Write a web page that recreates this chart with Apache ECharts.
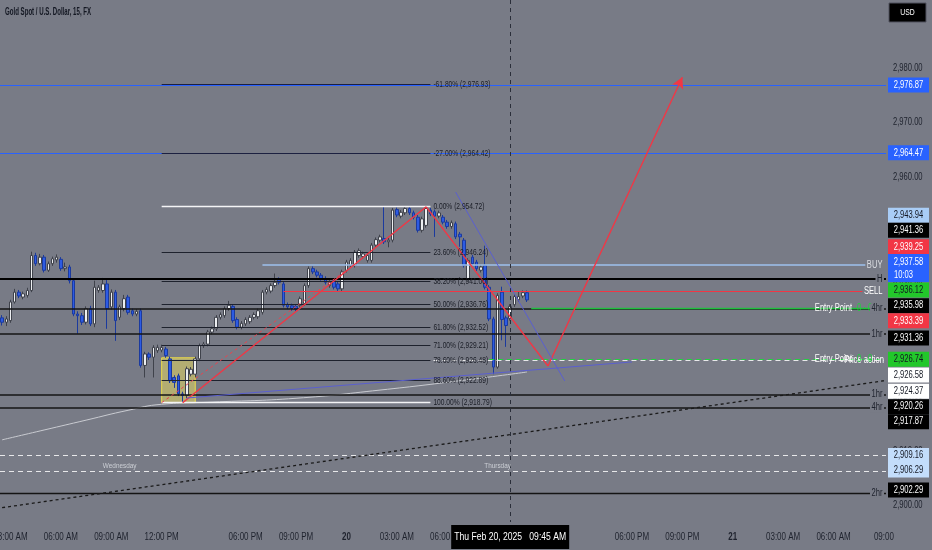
<!DOCTYPE html>
<html>
<head>
<meta charset="utf-8">
<script src="https://cdn.jsdelivr.net/npm/echarts@6/dist/echarts.min.js"></script>
<style>
html,body{margin:0;padding:0;background:#787b86;overflow:hidden}
#chart{width:932px;height:550px}
</style>
</head>
<body>
<div id="chart"></div>
<script>
const FONT = "'Liberation Sans','Roboto',sans-serif";

// ---------- categories (15-minute bars, daily break 17:00-18:00 skipped) ----------
const BAR_COUNT = 211;
const categories = [];
for (let t = Date.UTC(2025, 1, 19, 2, 30); categories.length < BAR_COUNT; t += 15 * 60000) {
  const d = new Date(t);
  if (d.getUTCHours() === 17) continue;
  categories.push(d.toISOString().slice(0, 16).replace('T', ' '));
}

// ---------- tick labels ----------
const xTickIndex = [2, 14, 26, 38, 58, 70, 82, 94, 106, 150, 162, 174, 186, 198, 210];
const xTickText = ['03:00 AM', '06:00 AM', '09:00 AM', '12:00 PM', '06:00 PM', '09:00 PM', '20', '03:00 AM', '06:00 AM', '06:00 PM', '09:00 PM', '21', '03:00 AM', '06:00 AM', '09:00'];
const yTickValues = [2900, 2910, 2920, 2930, 2940, 2950, 2960, 2970, 2980];

// ---------- candles ----------
const candleOpen = [
2934.3,2933.5,2933.8,2937.2,2939.0,2938.1,2938.4,2939.3,2945.7,2944.2,
2945.4,2943.0,2944.2,2944.9,2945.0,2943.3,2943.6,2941.1,2935.0,2934.7,
2933.5,2936.0,2933.2,2939.3,2939.3,2940.5,2936.3,2939.0,2934.4,2936.0,
2938.1,2935.6,2935.0,2935.6,2925.6,2927.7,2927.1,2928.3,2928.4,2928.6,
2926.8,2923.4,2923.7,2920.4,2920.1,2924.0,2924.0,2926.8,2929.2,2929.5,
2931.7,2932.3,2934.4,2934.7,2936.0,2936.4,2934.0,2932.6,2933.2,2933.6,
2934.4,2934.5,2935.3,2939.0,2939.2,2940.2,2941.3,2940.5,2936.7,2936.5,
2936.4,2936.6,2936.9,2940.2,2943.3,2942.7,2942.1,2941.5,2940.2,2941.1,
2940.5,2939.6,2943.0,2943.9,2943.9,2945.7,2945.5,2944.8,2944.8,2947.6,
2948.5,2948.8,2948.2,2948.5,2954.1,2952.9,2953.5,2954.3,2953.5,2952.7,
2950.3,2951.2,2954.0,2953.7,2952.9,2952.7,2951.8,2951.0,2951.5,2949.6,
2948.5,2941.5,2945.4,2944.5,2943.0,2943.9,2939.9,2934.1,2925.3,2939.0,
2934.3,2934.2,2936.7,2937.6,2938.3,2938.9];
const candleClose = [
2933.5,2934.1,2937.2,2939.0,2938.3,2938.7,2939.3,2945.7,2944.2,2945.4,
2943.0,2944.2,2945.1,2945.4,2943.3,2943.6,2941.1,2935.0,2934.7,2933.5,
2936.0,2933.2,2939.9,2939.9,2940.5,2936.0,2939.0,2933.8,2936.3,2937.8,
2935.3,2935.0,2935.5,2925.6,2927.7,2927.1,2928.9,2928.9,2928.9,2927.4,
2922.8,2922.5,2920.4,2920.1,2925.0,2924.9,2926.8,2929.2,2929.5,2931.7,
2932.3,2934.4,2934.9,2936.0,2936.6,2933.8,2932.6,2933.3,2934.0,2934.4,
2934.9,2935.6,2939.0,2939.5,2940.2,2940.8,2940.8,2936.6,2936.3,2936.0,
2935.9,2937.8,2940.2,2943.3,2942.7,2942.1,2941.5,2940.8,2940.8,2939.9,
2939.6,2942.7,2944.5,2944.8,2946.3,2946.6,2946.0,2945.7,2947.6,2948.6,
2949.1,2948.2,2948.5,2954.0,2953.1,2953.6,2954.3,2953.5,2952.7,2950.3,
2952.4,2954.3,2953.3,2952.9,2953.5,2951.8,2951.0,2951.7,2949.1,2949.1,
2943.9,2944.8,2944.2,2943.3,2943.6,2939.9,2934.1,2925.3,2938.4,2934.0,
2932.9,2936.4,2938.2,2938.2,2938.9,2937.58];
const candleLow = [
2932.9,2932.8,2933.4,2936.9,2937.9,2937.7,2938.0,2939.0,2943.8,2943.9,
2942.6,2942.7,2943.8,2944.4,2942.9,2942.8,2940.6,2934.6,2931.4,2933.0,
2933.1,2932.8,2932.6,2938.9,2938.9,2932.3,2935.8,2930.1,2933.9,2935.5,
2934.9,2934.6,2934.6,2925.2,2923.4,2926.6,2923.4,2927.9,2928.0,2927.0,
2922.4,2921.5,2920.0,2918.79,2919.6,2923.6,2923.4,2926.4,2928.8,2929.1,
2931.3,2931.9,2934.0,2934.3,2935.6,2933.4,2932.2,2932.2,2932.8,2933.2,
2934.0,2934.1,2934.9,2938.6,2938.8,2939.8,2940.4,2936.2,2935.9,2935.6,
2935.5,2936.2,2936.5,2939.8,2942.3,2941.7,2941.1,2940.4,2939.8,2939.5,
2939.2,2939.2,2942.6,2943.5,2943.5,2945.3,2945.1,2944.4,2944.4,2947.2,
2948.1,2947.8,2947.2,2948.1,2952.7,2952.5,2953.1,2953.1,2952.3,2949.9,
2949.9,2950.8,2952.9,2949.1,2952.5,2951.4,2950.6,2950.6,2948.7,2947.3,
2943.5,2941.1,2943.8,2942.9,2942.6,2939.5,2933.7,2924.0,2925.0,2930.2,
2929.0,2933.8,2936.3,2937.2,2937.9,2937.2];
const candleHigh = [
2934.8,2934.6,2937.6,2939.6,2939.4,2939.1,2939.8,2946.4,2946.2,2946.0,
2945.8,2944.6,2945.5,2945.9,2945.4,2944.4,2944.0,2941.5,2935.5,2935.2,
2936.4,2936.5,2941.1,2940.3,2941.6,2941.2,2939.5,2939.4,2936.7,2938.5,
2938.5,2936.0,2935.9,2936.0,2928.1,2928.0,2929.3,2929.4,2929.4,2929.0,
2927.2,2923.8,2924.1,2920.8,2925.4,2925.3,2927.2,2929.6,2929.9,2932.1,
2932.7,2934.8,2935.3,2936.4,2937.4,2936.8,2934.4,2933.7,2934.4,2934.8,
2935.3,2936.0,2939.4,2939.9,2940.6,2942.4,2941.7,2940.9,2937.1,2936.9,
2936.8,2938.2,2940.6,2943.7,2943.7,2943.1,2942.5,2941.9,2941.2,2941.5,
2940.9,2943.1,2944.9,2945.2,2946.7,2947.0,2946.4,2946.1,2948.0,2949.0,
2949.5,2954.6,2948.9,2954.4,2954.5,2954.0,2954.7,2954.6,2953.9,2953.1,
2952.8,2954.72,2954.4,2954.1,2953.9,2953.1,2952.2,2952.1,2951.9,2950.0,
2948.9,2945.2,2945.8,2944.9,2944.0,2947.5,2940.3,2934.5,2938.8,2940.0,
2934.7,2936.8,2938.6,2939.2,2939.3,2939.3];

// ---------- moving average (read at a few bars) ----------
const maIndex = [0, 10, 20, 30, 38, 50, 70, 90, 110, 125];
const maValue = [2912.0, 2913.8, 2915.6, 2917.4, 2918.5, 2918.9, 2919.6, 2921.1, 2922.9, 2924.4];

// ---------- fibonacci retracement ----------
const fibPct = [-61.8, -27, 0, 23.6, 38.2, 50, 61.8, 71, 78.6, 88.6, 100];
const fibPrice = [2976.93, 2964.42, 2954.72, 2946.24, 2941.00, 2936.76, 2932.52, 2929.21, 2926.48, 2922.89, 2918.79];
const fibFromIndex = 38, fibToIndex = 102;

// ---------- full-width horizontal levels ----------
const levelPrice = [2976.87, 2964.47, 2941.36, 2935.98, 2931.36, 2920.26, 2917.87, 2902.29, 2909.16, 2906.29];
const levelName = ['', '', 'H', '4hr', '1hr', '1hr', '4hr', '2hr', '', ''];

// ---------- partial horizontal levels (start bar -> right edge) ----------
const partPrice = [2943.94, 2939.25, 2936.12, 2926.58, 2926.74];
const partStart = [62, 67, 126, 47, 116];
const partName = ['BUY', 'SELL', 'Entry Point', 'Price action', 'Entry Point'];

// ---------- drawings ----------
const zigzagIndex = [43, 101, 130, 162];
const zigzagPrice = [2918.79, 2954.6, 2925.5, 2978.3];
const redDashIndex = [38, 82];
const redDashPrice = [2918.8, 2943.0];
const trend1Index = [44, 150];
const trend1Price = [2919.65, 2926.24];
const trend2Index = [108, 134];
const trend2Price = [2957.3, 2922.76];
const dottedIndex = [0, 210];
const dottedPrice = [2899.6, 2922.8];
const boxIndex = [38, 46];
const boxPrice = [2927.0, 2918.8];
const crossIndex = 121;
const crossText = 'Thu Feb 20, 2025   09:45 AM';
const sessionIndex = [28, 118];
const sessionPrice = [2907.2, 2907.2];
const sessionText = ['Wednesday', 'Thursday'];

// ---------- right axis price tags ----------
const tagPrice = [2976.87, 2964.47, 2943.94, 2941.36, 2939.25, 2937.58, 2936.12, 2935.98, 2933.39, 2931.36, 2926.74, 2926.58, 2924.37, 2920.26, 2917.87, 2909.16, 2906.29, 2902.29];
const tagSub = ['', '', '', '', '', '10:03', '', '', '', '', '', '', '', '', '', '', '', ''];

// styles / layout (kept separate from data)
const tagStyle = [
  ['#2962ff', '#ffffff', 0], ['#2962ff', '#ffffff', 0], ['#a9cdf7', '#131722', -50], ['#000000', '#ffffff', -49],
  ['#f23645', '#ffffff', -44], ['#2962ff', '#ffffff', -32], ['#22c72a', '#131722', -18], ['#000000', '#ffffff', -3],
  ['#f23645', '#ffffff', -2], ['#000000', '#ffffff', 4], ['#22c72a', '#131722', 0], ['#ffffff', '#131722', 15],
  ['#ffffff', '#131722', 19], ['#000000', '#ffffff', 12], ['#000000', '#ffffff', 14], ['#c3ddfb', '#131722', 0],
  ['#c3ddfb', '#131722', -1], ['#000000', '#ffffff', -3]];
const levelStyle = [
  ['#2962ff', 1, 'solid'], ['#2962ff', 1, 'solid'], ['#000000', 2.2, 'solid'], ['#141414', 1.6, 'solid'], ['#141414', 1.6, 'solid'],
  ['#141414', 1.6, 'solid'], ['#141414', 1.6, 'solid'], ['#141414', 1.4, 'solid'], ['#e8e8ea', 1, [5, 4]], ['#e8e8ea', 1, [5, 4]]];
const partStyle = [
  ['#9ec0ec', 1.6, 'solid'], ['#f23645', 1.2, 'solid'], ['#1fbf3d', 1.4, 'solid'], ['#e8e8ea', 1.2, [5, 4]], ['#22d040', 1.2, [5, 4]]];

const Y_MIN = 2896.98, Y_MAX = 2992.41;
const BG = '#787b86';
const SX = 0.76; // condensed look of TradingView's text
const fmtPrice = v => v.toLocaleString('en-US', { minimumFractionDigits: 2, maximumFractionDigits: 2 });

const chart = echarts.init(document.getElementById('chart'), null, { renderer: 'canvas' });

const levelMarks = levelPrice.map((p, k) => ({
  yAxis: p,
  lineStyle: { color: levelStyle[k][0], width: levelStyle[k][1], type: levelStyle[k][2] },
  label: { show: false }
}));
const partMarks = partPrice.map((p, k) => [
  { coord: [partStart[k], p], lineStyle: { color: partStyle[k][0], width: partStyle[k][1], type: partStyle[k][2] }, label: { show: false } },
  { coord: [BAR_COUNT - 1, p] }
]);
const fibMarks = fibPrice.map((p, k) => {
  const white = fibPct[k] === 0 || fibPct[k] === 100;
  const navy = fibPct[k] < 0;
  return [
    { coord: [fibFromIndex, p], lineStyle: { color: white ? '#f4f4f6' : (navy ? '#1c2040' : '#1e222d'), width: white ? 1.4 : 1.2, type: 'solid' }, label: { show: false } },
    { coord: [fibToIndex, p] }
  ];
});

const pairs = (ix, pv) => ix.map((x, k) => [x, pv[k]]);
const zigzagSegs = zigzagIndex.slice(1).map((x, k) => [
  { coord: [zigzagIndex[k], zigzagPrice[k]], symbol: 'none' },
  { coord: [x, zigzagPrice[k + 1]], symbol: k === zigzagIndex.length - 2 ? 'arrow' : 'none' }
]);

const option = {
  animation: false,
  backgroundColor: BG,
  grid: { left: 0, right: 46, top: 0, bottom: 28, containLabel: false, outerBoundsMode: 'none' },
  xAxis: {
    type: 'category', data: categories, boundaryGap: true,
    axisLine: { show: false }, axisTick: { show: false }, splitLine: { show: false }, axisLabel: { show: false }
  },
  yAxis: {
    type: 'value', position: 'right', min: Y_MIN, max: Y_MAX, scale: true,
    splitLine: { show: false }, axisLine: { show: false }, axisTick: { show: false }, axisLabel: { show: false }
  },
  series: [
    {
      name: 'MA', type: 'line', data: pairs(maIndex, maValue), smooth: true, showSymbol: false,
      lineStyle: { color: '#c9cbd1', width: 1 }, z: 1, silent: true
    },
    {
      name: 'levels', type: 'line', data: [], z: 3, silent: true,
      markLine: { symbol: ['none', 'none'], silent: true, animation: false, data: levelMarks.concat(partMarks) }
    },
    {
      name: 'fib', type: 'line', data: [], z: 3, silent: true,
      markLine: { symbol: ['none', 'none'], silent: true, animation: false, data: fibMarks }
    },
    {
      name: 'XAUUSD', type: 'candlestick', z: 4,
      data: candleOpen.map((o, i) => [o, candleClose[i], candleLow[i], candleHigh[i]]),
      barWidth: '72%',
      itemStyle: { color: '#eceef1', color0: '#2d5be3', borderColor: '#3f424b', borderColor0: '#1b3a9e', borderWidth: 1 },
      markArea: {
        silent: true,
        itemStyle: { color: 'rgba(250,236,90,0.45)', borderColor: 'rgba(240,222,70,0.95)', borderWidth: 1 },
        data: [[{ coord: [boxIndex[0], boxPrice[0]] }, { coord: [boxIndex[1], boxPrice[1]] }]]
      }
    },
    {
      name: 'trend1', type: 'line', data: pairs(trend1Index, trend1Price), showSymbol: false, silent: true,
      lineStyle: { color: '#5a5fd0', width: 1 }, z: 5
    },
    {
      name: 'trend2', type: 'line', data: pairs(trend2Index, trend2Price), showSymbol: false, silent: true,
      lineStyle: { color: '#5a5fd0', width: 1 }, z: 5
    },
    {
      name: 'dotted', type: 'line', data: pairs(dottedIndex, dottedPrice), showSymbol: false, silent: true,
      lineStyle: { color: '#1a1a1a', width: 1.3, type: [3, 3] }, z: 5
    },
    {
      name: 'redDash', type: 'line', data: pairs(redDashIndex, redDashPrice), showSymbol: false, silent: true,
      lineStyle: { color: '#e8434f', width: 1, type: [3, 3] }, z: 5
    },
    {
      name: 'zigzag', type: 'line', data: [], z: 6, silent: true,
      markLine: {
        silent: true, animation: false, symbolSize: [9, 11], label: { show: false },
        lineStyle: { color: '#f23645', width: 1.4, type: 'solid' },
        data: zigzagSegs
      }
    },
    {
      name: 'cross', type: 'line', data: [], z: 6, silent: true,
      markLine: {
        symbol: ['none', 'none'], silent: true, animation: false,
        lineStyle: { color: '#2a2e39', width: 1, type: [4, 4] }, label: { show: false },
        data: [[{ coord: [crossIndex, Y_MAX] }, { coord: [crossIndex, Y_MIN] }]]
      }
    }
  ]
};
chart.setOption(option);

// ---------- text overlays ----------
const px = i => chart.convertToPixel({ xAxisIndex: 0 }, i);
const py = v => chart.convertToPixel({ yAxisIndex: 0 }, v);
const g = [];
function txt(text, x, y, o) {
  o = o || {};
  const st = {
    text, x: 0, y: 0, textAlign: o.align || 'left', textVerticalAlign: 'middle', verticalAlign: 'middle',
    fill: o.color || '#1e222d', font: `${o.weight || 'normal'} ${o.size || 10}px ${FONT}`
  };
  if (o.bg) { st.backgroundColor = o.bg; st.padding = o.pad || [0, 2]; }
  g.push({ type: 'text', x, y, scaleX: o.sx || SX, z: o.z || 100, silent: true, style: st });
}

// title and currency
txt('Gold Spot / U.S. Dollar, 15, FX', 5, 12, { size: 10, sx: 0.61, color: '#131722', weight: 'bold' });
g.push({ type: 'rect', z: 100, shape: { x: 889, y: 3, width: 37, height: 19 }, style: { fill: '#000000', stroke: '#50535e' } });
txt('USD', 907.5, 12.5, { align: 'center', color: '#ffffff', size: 9, z: 101 });

// y tick labels
yTickValues.forEach(v => txt(fmtPrice(v), 893, py(v), { color: '#1e222d', z: 90 }));
// x tick labels
xTickIndex.forEach((i, k) => {
  const s = xTickText[k];
  const bold = /^\d+$/.test(s);
  txt(s, px(i), 537, { align: 'center', weight: bold ? 'bold' : 'normal', color: '#1e222d', sx: 0.8, z: 90 });
});

// fib labels
fibPrice.forEach((p, k) => txt(`${fibPct[k].toFixed(2)}% (${fmtPrice(p)})`, px(fibToIndex) + 3, py(p), { size: 9, sx: 0.74, color: '#1a1d26' }));

// session labels
sessionText.forEach((t, k) => txt(t, px(sessionIndex[k]), py(sessionPrice[k]), { align: 'center', size: 8, sx: 0.8, color: '#cdd0d6' }));

// right-edge line labels
const RX = 884;
txt('BUY', RX, py(partPrice[0]), { align: 'right', color: '#dcdee3', bg: BG });
txt('SELL', RX, py(partPrice[1]), { align: 'right', color: '#ffffff', bg: BG });
txt('Price action', RX, py(partPrice[3]), { align: 'right', color: '#ffffff' });
[2, 4].forEach(k => {
  txt('Entry Point', 852, py(partPrice[k]), { align: 'right', color: '#ffffff' });
  txt('0 · 0', 857, py(partPrice[k]), { align: 'left', color: '#22d040' });
});
levelPrice.forEach((p, k) => { if (levelName[k]) txt(levelName[k], RX, py(p), { align: 'right', color: '#1e222d', bg: BG }); });

// price tags
tagPrice.forEach((p, k) => {
  const [bg, fg, dy] = tagStyle[k];
  const yc = py(p) + dy;
  const two = !!tagSub[k];
  const h = two ? 28 : 15;
  g.push({ type: 'rect', z: 100, shape: { x: 888, y: yc - h / 2, width: 41, height: h }, style: { fill: bg } });
  if (two) {
    txt(fmtPrice(p), 908.5, yc - 6, { align: 'center', color: fg, z: 101 });
    txt(tagSub[k], 894, yc + 7, { align: 'left', color: fg, z: 101 });
  } else {
    txt(fmtPrice(p), 908.5, yc, { align: 'center', color: fg, z: 101 });
  }
});

// crosshair time label
const cx = px(crossIndex);
g.push({ type: 'rect', z: 100, shape: { x: cx - 59, y: 525, width: 118, height: 24 }, style: { fill: '#000000' } });
txt(crossText, cx, 537, { align: 'center', color: '#ffffff', sx: 0.86, z: 101 });

chart.setOption({ graphic: g });
</script>
</body>
</html>
